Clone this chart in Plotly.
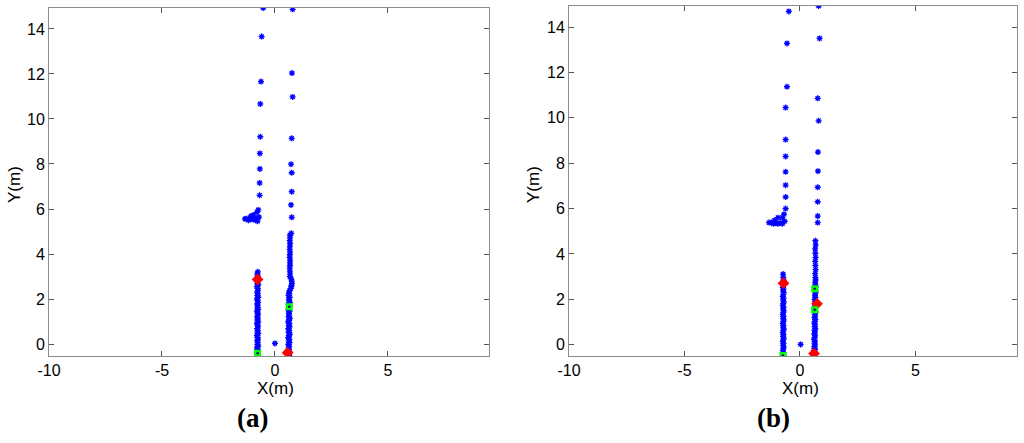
import plotly.graph_objects as go

# ---------------- data (a) ----------------
a_sparse_x = [-0.52, -0.59, -0.62, -0.65, -0.65, -0.67, -0.67, -0.68, -0.68,
              -0.74, -0.80, -0.71, -0.96, -1.06, -1.25, -1.33, -1.18, -0.96, -0.85, -0.77, -1.10, -0.90,
              0.78, 0.75, 0.78, 0.74, 0.71, 0.74, 0.74, 0.71, 0.74, 0.72,
              0.00]
a_sparse_y = [14.93, 13.66, 11.66, 10.67, 9.21, 8.47, 7.78, 7.16, 6.61,
              5.96, 5.85, 5.64, 5.73, 5.69, 5.58, 5.56, 5.50, 5.53, 5.50, 5.46, 5.55, 5.60,
              14.87, 12.04, 10.98, 9.14, 7.99, 7.61, 6.77, 6.18, 5.63, 4.92,
              0.03]
a_left_col_x = [-0.76, -0.78, -0.77, -0.75, -0.79, -0.76, -0.78, -0.74, -0.80, -0.77,
                -0.75, -0.79, -0.76, -0.78, -0.74, -0.80, -0.77, -0.75, -0.79, -0.76,
                -0.78, -0.74, -0.80, -0.77, -0.75, -0.79, -0.76, -0.78, -0.74, -0.80,
                -0.77, -0.75, -0.79, -0.76, -0.78, -0.74, -0.80, -0.77, -0.75, -0.79,
                -0.76, -0.78, -0.74, -0.80, -0.77, -0.75, -0.79, -0.76, -0.78]
a_left_col_y = [3.21, 3.12, 3.03, 2.95, 2.86, 2.78, 2.70, 2.63, 2.55, 2.47,
                2.40, 2.31, 2.24, 2.16, 2.08, 2.01, 1.93, 1.85, 1.78, 1.70,
                1.61, 1.54, 1.46, 1.38, 1.31, 1.22, 1.15, 1.07, 0.99, 0.92,
                0.84, 0.76, 0.69, 0.61, 0.53, 0.46, 0.38, 0.30, 0.22, 0.15,
                0.07, -0.01, -0.09, -0.17, -0.24, -0.32, -0.40, -0.48, -0.55]
a_right_col_x = [0.66, 0.67, 0.65, 0.67, 0.66, 0.65, 0.67, 0.66, 0.65, 0.67,
                 0.66, 0.67, 0.65, 0.66, 0.67, 0.66, 0.72, 0.74, 0.75, 0.73,
                 0.72, 0.70, 0.66, 0.62, 0.64, 0.60, 0.65, 0.61, 0.63, 0.66,
                 0.60, 0.64, 0.62, 0.59, 0.65, 0.61, 0.63, 0.60, 0.66, 0.62,
                 0.58, 0.64, 0.61, 0.65, 0.59, 0.63, 0.60, 0.66, 0.62, 0.58,
                 0.64, 0.61, 0.65, 0.59, 0.63, 0.60, 0.62, 0.64, 0.61, 0.63]
a_right_col_y = [4.84, 4.72, 4.60, 4.47, 4.35, 4.22, 4.10, 3.98, 3.85, 3.73,
                 3.61, 3.49, 3.37, 3.24, 3.12, 3.00, 2.90, 2.80, 2.70, 2.62,
                 2.55, 2.47, 2.39, 2.31, 2.23, 2.16, 2.08, 2.00, 1.92, 1.85,
                 1.77, 1.69, 1.61, 1.53, 1.46, 1.38, 1.30, 1.22, 1.14, 1.07,
                 0.99, 0.91, 0.83, 0.76, 0.68, 0.60, 0.52, 0.44, 0.37, 0.29,
                 0.21, 0.13, 0.06, -0.02, -0.10, -0.18, -0.26, -0.34, -0.42, -0.50]
a_red_x = [-0.77, 0.56]
a_red_y = [2.87, -0.39]
a_green_x = [-0.77, 0.63]
a_green_y = [-0.41, 1.66]

# ---------------- data (b) ----------------
b_sparse_x = [-0.48, -0.56, -0.56, -0.62, -0.62, -0.62, -0.62, -0.62, -0.62, -0.62,
              -0.69, -0.76, -0.95, -1.10, -1.24, -1.34, -1.15, -0.95, -0.76, -0.66, -0.85, -1.05,
              0.81, 0.85, 0.77, 0.81, 0.78, 0.78, 0.77, 0.77, 0.77, 0.77,
              0.03]
b_sparse_y = [14.69, 13.28, 11.37, 10.45, 9.04, 8.30, 7.62, 7.03, 6.51, 6.00,
              5.75, 5.60, 5.60, 5.48, 5.38, 5.38, 5.33, 5.33, 5.33, 5.44, 5.36, 5.35,
              14.93, 13.50, 10.86, 9.87, 8.49, 7.65, 6.94, 6.30, 5.67, 5.38,
              0.01]
b_left_col_x = [-0.73, -0.72, -0.71, -0.73, -0.70, -0.72, -0.74, -0.71, -0.73, -0.70,
                -0.72, -0.74, -0.71, -0.73, -0.70, -0.72, -0.74, -0.71, -0.73, -0.70,
                -0.72, -0.74, -0.71, -0.73, -0.70, -0.72, -0.74, -0.71, -0.73, -0.70,
                -0.72, -0.74, -0.71, -0.73, -0.70, -0.72, -0.74, -0.71, -0.73, -0.70,
                -0.72, -0.74, -0.71, -0.73, -0.70, -0.72, -0.74]
b_left_col_y = [3.11, 2.97, 2.85, 2.77, 2.69, 2.61, 2.53, 2.45, 2.37, 2.29,
                2.21, 2.13, 2.05, 1.97, 1.89, 1.81, 1.73, 1.65, 1.57, 1.49,
                1.41, 1.33, 1.25, 1.17, 1.09, 1.01, 0.93, 0.85, 0.77, 0.69,
                0.61, 0.53, 0.45, 0.37, 0.29, 0.21, 0.13, 0.05, -0.03, -0.11,
                -0.19, -0.27, -0.35, -0.43, -0.50, -0.46, -0.54]
b_right_col_x = [0.67, 0.68, 0.66, 0.67, 0.68, 0.66, 0.67, 0.68, 0.66, 0.67,
                 0.68, 0.66, 0.67, 0.68, 0.66, 0.67, 0.68, 0.66, 0.65, 0.67,
                 0.64, 0.66, 0.68, 0.65, 0.67, 0.63, 0.66, 0.68, 0.64, 0.66,
                 0.63, 0.67, 0.65, 0.62, 0.66, 0.64, 0.67, 0.63, 0.65, 0.62,
                 0.66, 0.64, 0.61, 0.65, 0.63, 0.66, 0.62, 0.64, 0.61, 0.65,
                 0.63, 0.60, 0.64, 0.62, 0.65]
b_right_col_y = [4.58, 4.40, 4.22, 4.03, 3.85, 3.67, 3.49, 3.31, 3.13, 2.96,
                 2.85, 2.74, 2.63, 2.55, 2.47, 2.39, 2.31, 2.23, 2.15, 2.07,
                 1.99, 1.91, 1.83, 1.75, 1.67, 1.59, 1.51, 1.43, 1.35, 1.27,
                 1.19, 1.11, 1.03, 0.95, 0.87, 0.79, 0.71, 0.63, 0.55, 0.47,
                 0.39, 0.31, 0.23, 0.15, 0.07, -0.01, -0.09, -0.17, -0.25, -0.33,
                 -0.41, -0.49, -0.45, -0.37, -0.21]
b_red_x = [-0.71, 0.74, 0.61]
b_red_y = [2.71, 1.80, -0.39]
b_green_x = [-0.74, 0.64, 0.64]
b_green_y = [-0.48, 2.46, 1.54]

x_ticks = [-10, -5, 0, 5]
x_tick_text = ["-10", "-5", "0", "5"]
y_ticks = [0, 2, 4, 6, 8, 10, 12, 14]
panel_labels = ["(a)", "(b)"]

BLUE = "#0000ff"
fig = go.Figure()


def add_panel(xa, ya, sx, sy, lx, ly, rx, ry, redx, redy, grx, gry):
    blue_x = sx + lx + rx
    blue_y = sy + ly + ry
    fig.add_trace(go.Scatter(x=blue_x, y=blue_y, mode="markers", xaxis=xa, yaxis=ya,
                             marker=dict(symbol="asterisk-open", size=5, color=BLUE,
                                         line=dict(color=BLUE, width=1.3)),
                             showlegend=False, hoverinfo="skip"))
    fig.add_trace(go.Scatter(x=redx, y=redy, mode="markers", xaxis=xa, yaxis=ya,
                             marker=dict(symbol="diamond", size=9, color="#ff0000",
                                         line=dict(width=0)),
                             showlegend=False, hoverinfo="skip"))
    fig.add_trace(go.Scatter(x=grx, y=gry, mode="markers", xaxis=xa, yaxis=ya,
                             marker=dict(symbol="square", size=7, color="#00ff00",
                                         line=dict(width=0)),
                             showlegend=False, hoverinfo="skip"))
    fig.add_trace(go.Scatter(x=grx, y=gry, mode="markers", xaxis=xa, yaxis=ya,
                             marker=dict(symbol="circle", size=2.5, color="#00008b"),
                             showlegend=False, hoverinfo="skip"))


add_panel("x", "y", a_sparse_x, a_sparse_y, a_left_col_x, a_left_col_y,
          a_right_col_x, a_right_col_y, a_red_x, a_red_y, a_green_x, a_green_y)
add_panel("x2", "y2", b_sparse_x, b_sparse_y, b_left_col_x, b_left_col_y,
          b_right_col_x, b_right_col_y, b_red_x, b_red_y, b_green_x, b_green_y)

FONT = "Liberation Sans, Arial, sans-serif"
axis_common = dict(showgrid=False, zeroline=False, showline=True, linecolor="#8c8c8c",
                   linewidth=1, mirror="ticks", ticks="inside", ticklen=5,
                   tickcolor="#555555", tickwidth=1, automargin=False,
                   tickfont=dict(family=FONT, size=16, color="#000000"))

fig.update_layout(
    width=1024, height=443,
    margin=dict(l=0, r=0, t=0, b=0, pad=0),
    paper_bgcolor="white", plot_bgcolor="white",
    xaxis=dict(domain=[49 / 1024, 489 / 1024], range=[-10, 9.47], tickvals=x_ticks,
               ticktext=x_tick_text, anchor="y", **axis_common),
    yaxis=dict(domain=[87 / 443, 435 / 443], range=[-0.53, 14.93], tickvals=y_ticks,
               anchor="x", **axis_common),
    xaxis2=dict(domain=[569 / 1024, 1017 / 1024], range=[-10, 9.4], tickvals=x_ticks,
                ticktext=x_tick_text, anchor="y2", **axis_common),
    yaxis2=dict(domain=[87 / 443, 437 / 443], range=[-0.5, 14.93], tickvals=y_ticks,
                anchor="x2", **axis_common),
)

ann = []
for xc, xl in [(275, 14), (800, 533)]:
    ann.append(dict(text="X(m)", x=xc / 1024, y=1 - 388 / 443, xref="paper", yref="paper",
                    showarrow=False, font=dict(family=FONT, size=17, color="#000000"),
                    xanchor="center", yanchor="middle"))
    ann.append(dict(text="Y(m)", x=xl / 1024, y=1 - 185 / 443, xref="paper", yref="paper",
                    showarrow=False, textangle=-90,
                    font=dict(family=FONT, size=17, color="#000000"),
                    xanchor="center", yanchor="middle"))
for lab, xc in zip(panel_labels, [252, 773]):
    ann.append(dict(text="<b>" + lab + "</b>", x=xc / 1024, y=1 - 418 / 443,
                    xref="paper", yref="paper", showarrow=False,
                    font=dict(family="Liberation Serif, Times New Roman, serif", size=27,
                              color="#000000"),
                    xanchor="center", yanchor="middle"))
fig.update_layout(annotations=ann)

fig.write_html("out.html", config={"displayModeBar": False},
               post_script="document.body.style.margin='0';document.body.style.overflow='hidden';")
